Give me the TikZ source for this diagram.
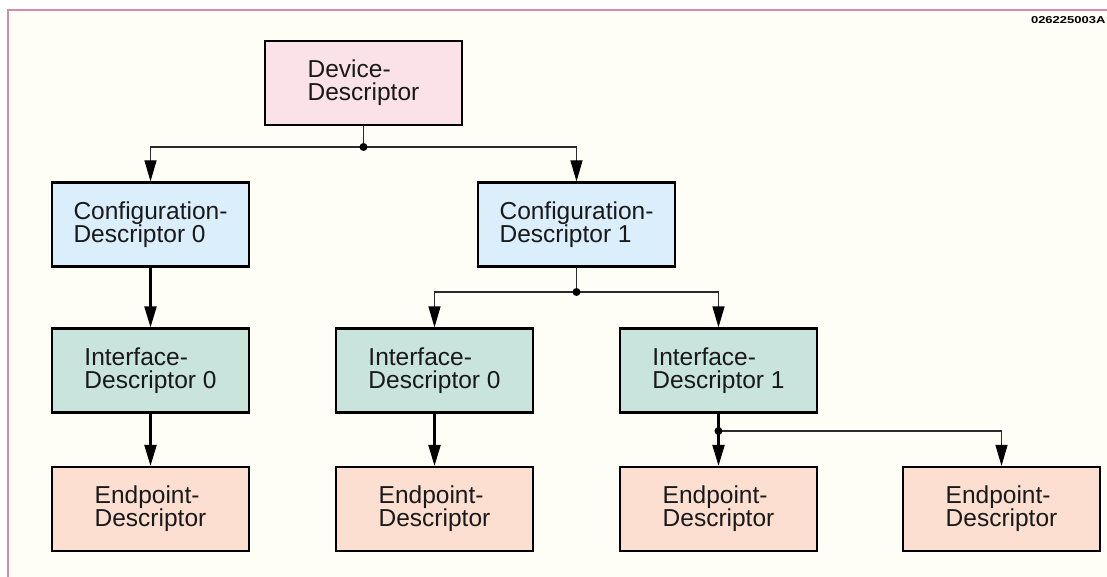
\documentclass[tikz,border=0pt]{standalone}
\usepackage{fontspec}
\setmainfont{Liberation Sans}
\usetikzlibrary{arrows.meta}

\definecolor{paper}{HTML}{FEFEF6}
\definecolor{framepink}{HTML}{D48CAA}
\definecolor{devfill}{HTML}{FBE2E9}
\definecolor{cfgfill}{HTML}{DAEEFB}
\definecolor{iffill}{HTML}{C8E4DC}
\definecolor{epfill}{HTML}{FDDFD2}
\definecolor{inkgray}{HTML}{2A2A2A}

\tikzset{
  descbox/.style={draw=black, line width=2.2pt, minimum width=197pt, minimum height=84pt,
    inner sep=0pt, align=left, text=black!90,
    font=\fontsize{24.5}{23}\selectfont},
  devbox/.style={descbox, fill=devfill},
  cfgbox/.style={descbox, fill=cfgfill},
  ifbox/.style={descbox, fill=iffill},
  epbox/.style={descbox, fill=epfill},
  tip/.style={-{Triangle[length=21pt,width=12pt,color=black]}},
  heavy/.style={line width=2.2pt, draw=black},
  light/.style={line width=1.2pt, draw=inkgray},
  junction/.style={circle, fill=black, inner sep=0pt, minimum size=8pt}
}

\begin{document}
\begin{tikzpicture}[x=1pt,y=-1pt]
  \useasboundingbox (0,0) rectangle (1107,577);
  \fill[white] (0,0) rectangle (1107,577);
  \fill[paper] (8,10) rectangle (1107,577);
  \draw[framepink, line width=2pt] (8,577) -- (8,10) -- (1107,10);

  \node[anchor=base east, font=\bfseries\fontsize{10}{10}\selectfont]
    (code) at (1109,24) {\scalebox{1.3}[1]{026225003A}};

  % descriptor tree
  \node[devbox] (dev)  at (363.5,83)    {Device-\\Descriptor};
  \node[cfgbox] (cfg0) at (150.5,224.5) {Configuration-\\Descriptor 0};
  \node[cfgbox] (cfg1) at (576.5,224.5) {Configuration-\\Descriptor 1};
  \node[ifbox]  (ifa)  at (150.5,370.5) {Interface-\\Descriptor 0};
  \node[ifbox]  (ifb)  at (434.5,370.5) {Interface-\\Descriptor 0};
  \node[ifbox]  (ifc)  at (718.5,370.5) {Interface-\\Descriptor 1};
  \node[epbox]  (epa)  at (150.5,509)   {Endpoint-\\Descriptor};
  \node[epbox]  (epb)  at (434.5,509)   {Endpoint-\\Descriptor};
  \node[epbox]  (epc)  at (718.5,509)   {Endpoint-\\Descriptor};
  \node[epbox]  (epd)  at (1001.5,509)  {Endpoint-\\Descriptor};

  % branch points
  \coordinate (j1) at (363.5,147);
  \coordinate (j2) at (576.5,292);
  \coordinate (j3) at (718.5,431);

  % device -> configurations
  \draw[light] (dev.south) -- (j1);
  \draw[light, tip] (j1) -| (cfg0.north);
  \draw[light, tip] (j1) -| (cfg1.north);

  % configuration 0
  \draw[heavy, tip] (cfg0.south) -- (ifa.north);
  \draw[heavy, tip] (ifa.south) -- (epa.north);

  % configuration 1 -> interfaces
  \draw[light] (cfg1.south) -- (j2);
  \draw[light, tip] (j2) -| (ifb.north);
  \draw[light, tip] (j2) -| (ifc.north);
  \draw[heavy, tip] (ifb.south) -- (epb.north);

  % interface 1 -> endpoints
  \draw[heavy] (ifc.south) -- (j3);
  \draw[heavy, tip] (j3) -- (epc.north);
  \draw[light, tip] (j3) -| (epd.north);

  \node[junction] (d1) at (j1) {};
  \node[junction] (d2) at (j2) {};
  \node[junction] (d3) at (j3) {};
\end{tikzpicture}
\end{document}
